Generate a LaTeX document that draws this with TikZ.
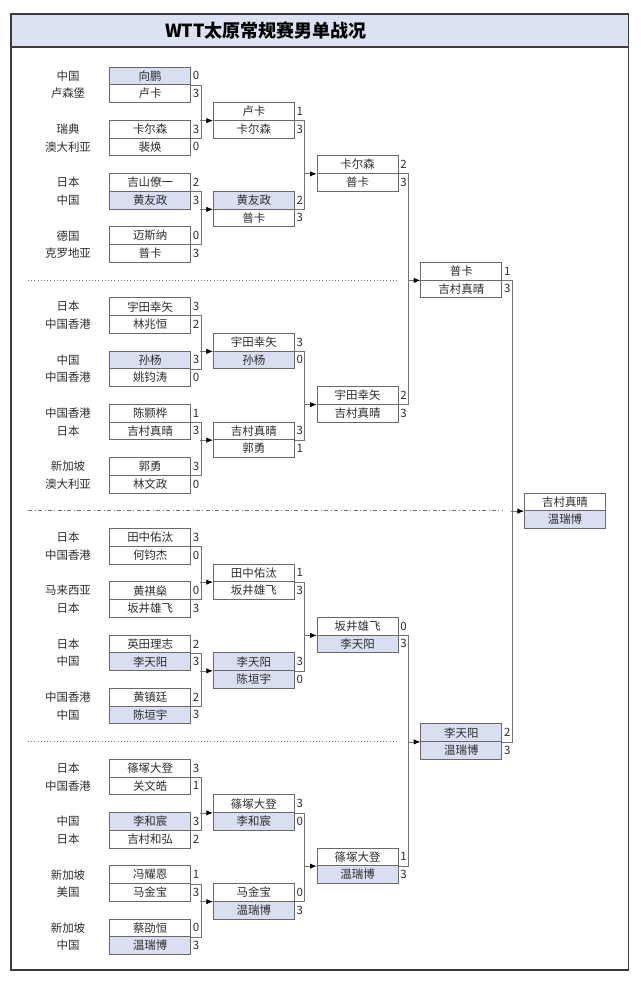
\documentclass[tikz,border=0pt]{standalone}
\usepackage{fontspec}
\usepackage{xcolor}
\usepackage{tikz}
\usetikzlibrary{arrows, arrows.meta}
\newfontfamily\cjk{Noto Sans CJK SC}
\definecolor{grid}{RGB}{105,105,105}
\definecolor{wire}{RGB}{115,115,115}
\definecolor{ink}{RGB}{45,45,45}
\definecolor{chn}{RGB}{217,222,240}
\definecolor{banner}{RGB}{221,226,243}
\definecolor{rim}{RGB}{60,60,60}

\tikzset{
    slot/.style={draw=grid, line width=0.6pt, rectangle, minimum width=60.75pt, minimum height=13.3pt,
        inner sep=0pt, anchor=west, text=ink, font=\cjk\fontsize{8.6}{10}\selectfont},
    hl/.style={fill=chn},
    score/.style={anchor=west, xshift=1.2pt, inner sep=0pt, text=ink, font=\cjk\fontsize{8.6}{10}\selectfont},
    nation/.style={inner sep=0pt, text=ink, font=\cjk\fontsize{8.6}{10}\selectfont},
    link/.style={draw=wire, line width=0.6pt},
    pointer/.style={link, -{Latex[length=5pt, width=4pt, color=black]}},
}

% player cell with its score: name, x, row, style, player, score
\newcommand{\pl}[6]{%
    \node[slot,#4] (#1) at (#2,{67+(#3+.5)*17.75}) {#5};
    \node[score] (#1s) at (#1.east) {#6};}
% first round entry with nation: name, row, nation, style, player, score
\newcommand{\ent}[6]{%
    \node[nation] (#1n) at (68,{67+(#2+.5)*17.75}) {#3};
    \pl{#1}{109.3}{#2}{#4}{#5}{#6}}
% bracket from two matches into the next one
\newcommand{\feed}[3]{%
    \draw[link] (#1.south east) -| ([xshift=7.5pt]#2.south east) -- (#2.south east);
    \draw[pointer] ([xshift=-9.5pt]#3.south west) -- (#3.south west);}

\begin{document}
\begin{tikzpicture}[x=0.75pt, y=-0.75pt]
    \useasboundingbox (0,0) rectangle (640,985);
    \draw[draw=rim, line width=1pt, fill=banner] (11,14) rectangle (628.5,47);
    \draw[draw=rim, line width=1.1pt] (11,14) rectangle (628.5,970);
    \node[font=\cjk\bfseries\fontsize{13.5}{15}\selectfont, text=black] (title) at (266,31) {WTT太原常规赛男单战况};

    % section lines
    \draw[wire, dotted] (28,280) -- (398,280);
    \draw[wire, dash dot] (28,510.75) -- (502,510.75);
    \draw[wire, dotted] (28,741.5) -- (398,741.5);

    % quarter 1
    \ent{m1a}{0}{中国}{hl}{向鹏}{0}
    \ent{m1b}{1}{卢森堡}{}{卢卡}{3}
    \ent{m2a}{3}{瑞典}{}{卡尔森}{3}
    \ent{m2b}{4}{澳大利亚}{}{裴焕}{0}
    \ent{m3a}{6}{日本}{}{吉山僚一}{2}
    \ent{m3b}{7}{中国}{hl}{黄友政}{3}
    \ent{m4a}{9}{德国}{}{迈斯纳}{0}
    \ent{m4b}{10}{克罗地亚}{}{普卡}{3}
    \pl{q1a}{213}{2}{}{卢卡}{1}
    \pl{q1b}{213}{3}{}{卡尔森}{3}
    \pl{q2a}{213}{7}{hl}{黄友政}{2}
    \pl{q2b}{213}{8}{}{普卡}{3}
    \pl{s1a}{316.7}{5}{}{卡尔森}{2}
    \pl{s1b}{316.7}{6}{}{普卡}{3}

    % quarter 2
    \ent{m5a}{13}{日本}{}{宇田幸矢}{3}
    \ent{m5b}{14}{中国香港}{}{林兆恒}{2}
    \ent{m6a}{16}{中国}{hl}{孙杨}{3}
    \ent{m6b}{17}{中国香港}{}{姚钧涛}{0}
    \ent{m7a}{19}{中国香港}{}{陈颢桦}{1}
    \ent{m7b}{20}{日本}{}{吉村真晴}{3}
    \ent{m8a}{22}{新加坡}{}{郭勇}{3}
    \ent{m8b}{23}{澳大利亚}{}{林文政}{0}
    \pl{q3a}{213}{15}{}{宇田幸矢}{3}
    \pl{q3b}{213}{16}{hl}{孙杨}{0}
    \pl{q4a}{213}{20}{}{吉村真晴}{3}
    \pl{q4b}{213}{21}{}{郭勇}{1}
    \pl{s2a}{316.7}{18}{}{宇田幸矢}{2}
    \pl{s2b}{316.7}{19}{}{吉村真晴}{3}

    % quarter 3
    \ent{m9a}{26}{日本}{}{田中佑汰}{3}
    \ent{m9b}{27}{中国香港}{}{何钧杰}{0}
    \ent{m10a}{29}{马来西亚}{}{黄祺燊}{0}
    \ent{m10b}{30}{日本}{}{坂井雄飞}{3}
    \ent{m11a}{32}{日本}{}{英田理志}{2}
    \ent{m11b}{33}{中国}{hl}{李天阳}{3}
    \ent{m12a}{35}{中国香港}{}{黄镇廷}{2}
    \ent{m12b}{36}{中国}{hl}{陈垣宇}{3}
    \pl{q5a}{213}{28}{}{田中佑汰}{1}
    \pl{q5b}{213}{29}{}{坂井雄飞}{3}
    \pl{q6a}{213}{33}{hl}{李天阳}{3}
    \pl{q6b}{213}{34}{hl}{陈垣宇}{0}
    \pl{s3a}{316.7}{31}{}{坂井雄飞}{0}
    \pl{s3b}{316.7}{32}{hl}{李天阳}{3}

    % quarter 4
    \ent{m13a}{39}{日本}{}{篠塚大登}{3}
    \ent{m13b}{40}{中国香港}{}{关文皓}{1}
    \ent{m14a}{42}{中国}{hl}{李和宸}{3}
    \ent{m14b}{43}{日本}{}{吉村和弘}{2}
    \ent{m15a}{45}{新加坡}{}{冯耀恩}{1}
    \ent{m15b}{46}{美国}{}{马金宝}{3}
    \ent{m16a}{48}{新加坡}{}{蔡劭恒}{0}
    \ent{m16b}{49}{中国}{hl}{温瑞博}{3}
    \pl{q7a}{213}{41}{}{篠塚大登}{3}
    \pl{q7b}{213}{42}{hl}{李和宸}{0}
    \pl{q8a}{213}{46}{}{马金宝}{0}
    \pl{q8b}{213}{47}{hl}{温瑞博}{3}
    \pl{s4a}{316.7}{44}{}{篠塚大登}{1}
    \pl{s4b}{316.7}{45}{hl}{温瑞博}{3}

    % semis and final
    \pl{h1a}{420.4}{11}{}{普卡}{1}
    \pl{h1b}{420.4}{12}{}{吉村真晴}{3}
    \pl{h2a}{420.4}{37}{hl}{李天阳}{2}
    \pl{h2b}{420.4}{38}{hl}{温瑞博}{3}
    \node[slot] (fa) at (524.1,{67+24.5*17.75}) {吉村真晴};
    \node[slot,hl] (fb) at (524.1,{67+25.5*17.75}) {温瑞博};

    % brackets
    \feed{m1a}{m2a}{q1a}
    \feed{m3a}{m4a}{q2a}
    \feed{m5a}{m6a}{q3a}
    \feed{m7a}{m8a}{q4a}
    \feed{m9a}{m10a}{q5a}
    \feed{m11a}{m12a}{q6a}
    \feed{m13a}{m14a}{q7a}
    \feed{m15a}{m16a}{q8a}
    \feed{q1a}{q2a}{s1a}
    \feed{q3a}{q4a}{s2a}
    \feed{q5a}{q6a}{s3a}
    \feed{q7a}{q8a}{s4a}
    \feed{s1a}{s2a}{h1a}
    \feed{s3a}{s4a}{h2a}
    \feed{h1a}{h2a}{fa}
\end{tikzpicture}
\end{document}
